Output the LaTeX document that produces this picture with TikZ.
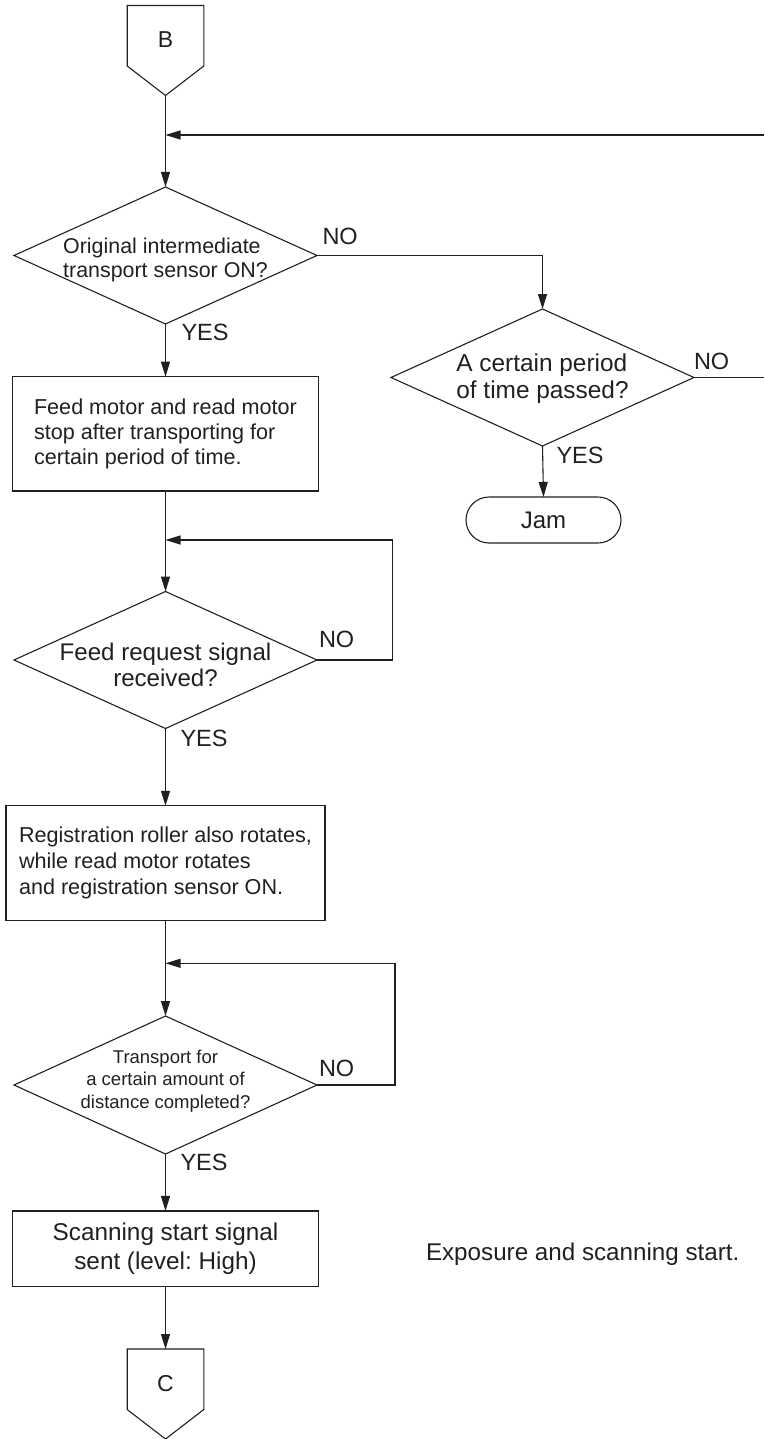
\documentclass[tikz,border=0pt]{standalone}
\usepackage{fontspec}
\setmainfont{Liberation Sans}
\frenchspacing
\usetikzlibrary{shapes.geometric, arrows.meta, calc}
\definecolor{ink}{HTML}{231F20}

\begin{document}
\begin{tikzpicture}[x=1pt, y=-1pt, line width=1.1pt, color=ink,
    every node/.style={inner sep=0pt, outer sep=0pt},
    decision/.style={diamond, draw, inner sep=0pt,
      minimum width=303pt, minimum height=137pt},
    process/.style={rectangle, draw, inner sep=4pt, minimum width=306pt},
    terminal/.style={rectangle, rounded corners=23pt, draw,
      minimum width=155pt, minimum height=46pt},
    answer/.style={anchor=base west, font=\fontsize{23.5}{28}\selectfont},
    arr/.style={-{Triangle[length=15pt, width=9pt]}}]
    \useasboundingbox (0,0) rectangle (764,1439);

    % off-page connector B
    \node[font=\fontsize{23}{28}\selectfont] (B) at (165.5,40) {B};
    \draw (B.center) ++(-38.3,-34.5) -- ++(0,60.5) -- ++(38.3,29.5)
      -- ++(38.3,-29.5) -- ++(0,-60.5) -- cycle;
    \coordinate (Btip) at ($(B.center)+(0,55.5)$);

    \node[decision, label={[align=left, yshift=-4pt,
      font=\fontsize{21.4}{24}\selectfont]center:{Original intermediate\\transport sensor ON?}}]
      (sensor) at (165.5,255.5) {};
    \node[decision, label={[align=left, yshift=-1pt,
      font=\fontsize{24.4}{26.5}\selectfont]center:{A certain period\\of time passed?}}]
      (timeout) at (542.5,377.5) {};
    \node[terminal, font=\fontsize{24}{28}\selectfont] (jam) at (543.5,520) {Jam};
    \node[process, align=left, minimum height=114.3pt,
      font=\fontsize{21.6}{25}\selectfont] (stop) at (165.5,433.8)
      {Feed motor and read motor\\stop after transporting for\\certain period of time.};
    \node[decision, label={[align=center, yshift=-5pt,
      font=\fontsize{24.1}{26}\selectfont]center:{Feed request signal\\received?}}]
      (request) at (165.5,660) {};
    \node[process, align=left, minimum width=319pt, minimum height=114.3pt,
      font=\fontsize{21.6}{25.8}\selectfont] (regist) at (165.5,862.9)
      {Registration roller also rotates,\\while read motor rotates\\and registration sensor ON.};
    \node[decision, minimum height=138pt, label={[align=center, yshift=4pt,
      font=\fontsize{18.5}{22.5}\selectfont]center:{Transport for\\a certain amount of\\distance completed?}}]
      (distance) at (165.5,1085) {};
    \node[process, align=center, minimum height=75.7pt,
      font=\fontsize{24.3}{28.3}\selectfont] (scanstart) at (165.5,1248.8)
      {Scanning start signal\\sent (level: High)};
    \node[anchor=base west, font=\fontsize{24.2}{28}\selectfont]
      (expo) at (426,1260) {Exposure and scanning start.};

    % off-page connector C
    \node[font=\fontsize{23}{28}\selectfont] (C) at (165.5,1383.5) {C};
    \draw (C.center) ++(-38.3,-34.5) -- ++(0,60.5) -- ++(38.3,29.5)
      -- ++(38.3,-29.5) -- ++(0,-60.5) -- cycle;
    \coordinate (Ctop) at ($(C.center)+(0,-34.5)$);

    % answers
    \node[answer] (sensorno) at ([xshift=5.5pt, yshift=10.5pt]sensor.east) {NO};
    \node[answer] (sensoryes) at ([xshift=16pt, yshift=-16.5pt]sensor.south) {YES};
    \node[answer] (timeoutno) at ([xshift=0pt, yshift=8.5pt]timeout.east) {NO};
    \node[answer] (timeoutyes) at ([xshift=14pt, yshift=-17.5pt]timeout.south) {YES};
    \node[answer] (requestno) at ([xshift=2pt, yshift=12.7pt]request.east) {NO};
    \node[answer] (requestyes) at ([xshift=15pt, yshift=-18pt]request.south) {YES};
    \node[answer] (distanceno) at ([xshift=2pt, yshift=8.3pt]distance.east) {NO};
    \node[answer] (distanceyes) at ([xshift=15pt, yshift=-16pt]distance.south) {YES};

    % connectors
    \coordinate (merge) at (165.5,135);
    \coordinate (loopin) at (764,135);
    \coordinate (loopout) at (764,377.5);
    \coordinate (merge2) at (165.5,540);
    \coordinate (merge3) at (165.5,963.3);
    \draw[arr] (Btip) -- (sensor.north);
    \draw[arr] (loopin) -- (merge);
    \draw[arr] (sensor.east) -| (timeout.north);
    \draw (timeout.east) -- (loopout);
    \draw[arr] (timeout.south) -- (jam.north);
    \draw[arr] (sensor.south) -- (stop.north);
    \draw[arr] (stop.south) -- (request.north);
    \draw[arr] (request.east) -- ++(75.7,0) |- (merge2);
    \draw[arr] (request.south) -- (regist.north);
    \draw[arr] (regist.south) -- (distance.north);
    \draw[arr] (distance.east) -- ++(78,0) |- (merge3);
    \draw[arr] (distance.south) -- (scanstart.north);
    \draw[arr] (scanstart.south) -- (Ctop);
\end{tikzpicture}
\end{document}
